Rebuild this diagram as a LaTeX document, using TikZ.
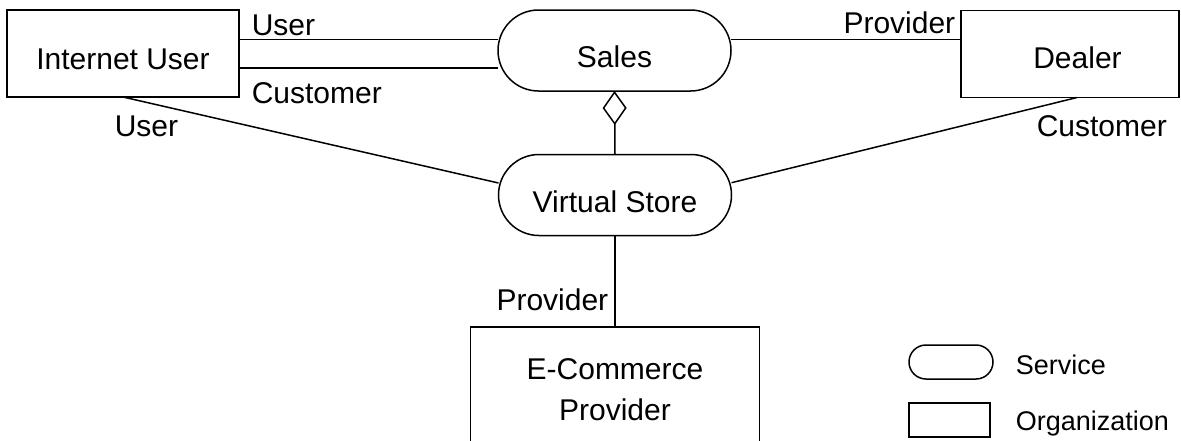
\documentclass[tikz,border=0pt]{standalone}
\usepackage{fontspec}
\setmainfont{Liberation Sans}
\usetikzlibrary{shapes.misc,arrows.meta}
\begin{document}
\begin{tikzpicture}[x=1pt,y=-1pt,line width=1.5pt,
  txt/.style={font=\fontsize{30}{40.7}\selectfont},
  org/.style={draw,rectangle,outer sep=0pt,inner sep=0pt,txt,align=center},
  svc/.style={draw,rounded rectangle,outer sep=0pt,inner sep=0pt,txt,
    minimum width=233pt,minimum height=81pt,text height=34pt,text depth=0pt},
  role/.style={inner sep=0pt,txt},
  legtxt/.style={inner sep=0pt,font=\fontsize{27}{32}\selectfont,anchor=base west}]
\useasboundingbox (0,0) rectangle (1181,440);

% organizations
\node[org,minimum width=232pt,minimum height=87pt,text height=32pt,text depth=0pt] (iu) at (123,53.5) {Internet User};
\node[org,minimum width=218pt,minimum height=87pt,text height=28.5pt,text depth=0pt] (dealer) at (1070,54) {\hspace*{15pt}Dealer};
\node[org,minimum width=289pt,minimum height=126pt] (ec) at (615,390) {E-Commerce\\Provider};

% services
\node[svc] (sales) at (614.5,50.5) {Sales};
\node[svc] (vs) at (615,195) {Virtual Store};

% attachment points
\coordinate (iuU) at ([yshift=14.2pt]iu.east);
\coordinate (iuC) at ([yshift=-14.5pt]iu.east);
\coordinate (dlP) at ([yshift=14.7pt]dealer.west);
\coordinate (vsL) at ([yshift=12pt]vs.west);
\coordinate (vsR) at ([yshift=12.3pt]vs.east);
\coordinate (dlS) at ([xshift=7pt]dealer.south);

% associations
\draw (iuU) -- (iuU -| sales.west);
\draw (iuC) -- (iuC -| sales.west);
\draw (dlP -| sales.east) -- (dlP);
\draw (iu.south) -- (vsL);
\draw (dlS) -- (vsR);
\draw (vs.south) -- (ec.north);
\draw[{Diamond[open,length=34pt,width=24pt]}-] (sales.south) -- (vs.north);

% role names
\node[role,anchor=base west] (r1) at (251,35) {User};
\node[role,anchor=base west] (r2) at (251,103.3) {Customer};
\node[role,anchor=base west] (r3) at (114,136.7) {User};
\node[role,anchor=base east] (r4) at (956,33.3) {Provider};
\node[role,anchor=base west] (r5) at (1036,136.7) {Customer};
\node[role,anchor=base east] (r6) at (609,310) {Provider};

% legend
\node[draw,rounded rectangle,outer sep=0pt,minimum width=84pt,minimum height=34pt,inner sep=0pt] (legS) at (951,362) {};
\node[draw,rectangle,outer sep=0pt,minimum width=81pt,minimum height=34pt,inner sep=0pt] (legO) at (949.5,420) {};
\node[legtxt] (legSt) at (1015,374.5) {Service};
\node[legtxt] (legOt) at (1015,430) {Organization};
\end{tikzpicture}
\end{document}
